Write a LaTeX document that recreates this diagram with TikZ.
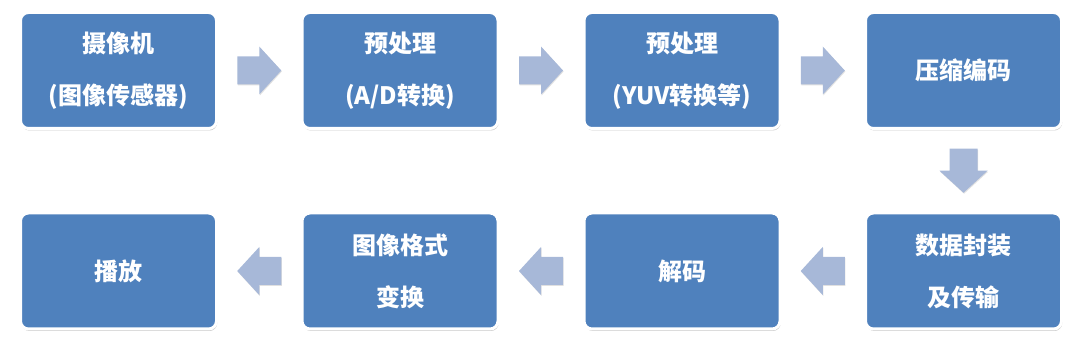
\documentclass[tikz,border=0pt]{standalone}
\usepackage{fontspec}
\newfontfamily\cjk{Noto Sans CJK SC}
\usetikzlibrary{shadows,calc}
\definecolor{boxblue}{HTML}{4F81BD}
\definecolor{arrowblue}{HTML}{A7B8D8}
\tikzset{
  flowbox/.style={fill=boxblue, draw=white, line width=3pt, rounded corners=8pt,
    minimum width=196pt, minimum height=116pt, inner sep=0pt, text=white,
    align=center, font=\cjk\bfseries\fontsize{24}{52}\selectfont,
    drop shadow={shadow xshift=0.8pt, shadow yshift=-2pt, opacity=0.35, fill=black!60}},
  blockarrow/.style={fill=arrowblue, draw=none,
    drop shadow={shadow xshift=0.6pt, shadow yshift=-1pt, opacity=0.2, fill=black!60}}
}
\newcommand{\blockarr}[2]{%
  \begin{scope}[shift={(#1)}, rotate=#2]
    \path[blockarrow] (-22,-14) -- (0,-14) -- (0,-24) -- (22,0) -- (0,24) -- (0,14) -- (-22,14) -- cycle;
  \end{scope}}
\begin{document}
\begin{tikzpicture}[x=1pt,y=-1pt]
\useasboundingbox (0,0) rectangle (1080,347);
\node[flowbox] (b1) at (118.5,70.5) {摄像机\\(图像传感器)};
\node[flowbox] (b2) at (400,70.5) {预处理\\(A/D转换)};
\node[flowbox] (b3) at (682,70.5) {预处理\\(YUV转换等)};
\node[flowbox] (b4) at (963.5,70.5) {压缩编码};
\node[flowbox] (b5) at (963.5,271) {数据封装\\及传输};
\node[flowbox] (b6) at (682,271) {解码};
\node[flowbox] (b7) at (400,271) {图像格式\\变换};
\node[flowbox] (b8) at (118.5,271) {播放};
\coordinate (a1) at ($(b1.east)!0.5!(b2.west)$);
\coordinate (a2) at ($(b2.east)!0.5!(b3.west)$);
\coordinate (a3) at ($(b3.east)!0.5!(b4.west)$);
\coordinate (a4) at ($(b4.south)!0.5!(b5.north)$);
\coordinate (a5) at ($(b5.west)!0.5!(b6.east)$);
\coordinate (a6) at ($(b6.west)!0.5!(b7.east)$);
\coordinate (a7) at ($(b7.west)!0.5!(b8.east)$);
\blockarr{a1}{0}
\blockarr{a2}{0}
\blockarr{a3}{0}
\blockarr{a4}{-90}
\blockarr{a5}{180}
\blockarr{a6}{180}
\blockarr{a7}{180}
\end{tikzpicture}
\end{document}
